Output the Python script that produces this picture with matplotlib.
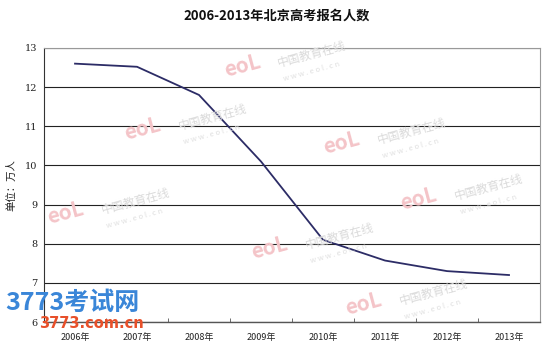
import matplotlib
matplotlib.use("Agg")
import matplotlib.pyplot as plt

plt.rcParams['font.family'] = ['Noto Sans CJK SC', 'DejaVu Sans']

years = ["2006年", "2007年", "2008年", "2009年", "2010年", "2011年", "2012年", "2013年"]
values = [12.6, 12.52, 11.8, 10.1, 8.1, 7.57, 7.3, 7.2]
yticks = [6, 7, 8, 9, 10, 11, 12, 13]
title = "2006-2013年北京高考报名人数"
ylabel = "单位：万人"

fig = plt.figure(figsize=(5.53, 3.5), dpi=100)
fig.patch.set_facecolor("white")
ax = fig.add_axes([0.0796, 0.08, 0.8969, 0.7829])

# faint watermarks (eol logo + site name)
wm = [(0.22, 0.60), (0.40, 0.78), (0.58, 0.56), (0.08, 0.36),
      (0.45, 0.26), (0.72, 0.40), (0.62, 0.10)]
for (x, y) in wm:
    fig.text(x, y, "eoL", color="#f4c4c8", fontsize=15, fontweight="bold",
             rotation=15, zorder=0, style="italic")
    fig.text(x + 0.10, y + 0.03, "中国教育在线", color="#dadada", fontsize=8.5,
             rotation=15, zorder=0)
    fig.text(x + 0.11, y - 0.01, "w w w . e o l . c n", color="#e0e0e0", fontsize=5.5,
             rotation=15, zorder=0)

xs = list(range(len(years)))
ax.plot(xs, values, color="#2c2c66", linewidth=1.3, zorder=3)

ax.set_xlim(-0.5, len(years) - 0.5)
ax.set_ylim(6, 13)
ax.set_yticks(yticks)
ax.set_yticklabels([str(v) for v in yticks], fontsize=7, color="#222222",
                   family=['DejaVu Serif'])
ax.set_xticks(xs)
ax.set_xticklabels(years, fontsize=6.5, color="#222222")
ax.set_xticks([i + 0.5 for i in xs[:-1]], minor=True)
ax.tick_params(axis="x", which="major", length=0, pad=8)
ax.tick_params(axis="x", which="minor", length=3, direction="in", color="#555555")
ax.tick_params(axis="y", length=0, pad=5)

ax.grid(axis="y", color="#222222", linewidth=0.8)
ax.set_axisbelow(True)
ax.patch.set_alpha(0)
for s in ["top", "right"]:
    ax.spines[s].set_color("#999999")
    ax.spines[s].set_linewidth(0.8)
ax.spines["left"].set_color("#333333")
ax.spines["bottom"].set_color("#555555")
ax.spines["bottom"].set_linewidth(1.0)

ax.set_ylabel(ylabel, fontsize=7.5, color="#222222", labelpad=6)
fig.text(0.5, 0.955, title, ha="center", va="center", fontsize=9.5, fontweight="bold",
         color="#111111")

# site logo
fig.text(0.01, 0.115, "3773考试网", color="#3a86d8", fontsize=18, fontweight="bold",
         style="italic", zorder=5)
fig.text(0.07, 0.062, "3773.com.cn", color="#e8502a", fontsize=10.5, fontweight="bold",
         family=["DejaVu Sans"], zorder=5)

fig.savefig("out.png", dpi=100, facecolor="white")
